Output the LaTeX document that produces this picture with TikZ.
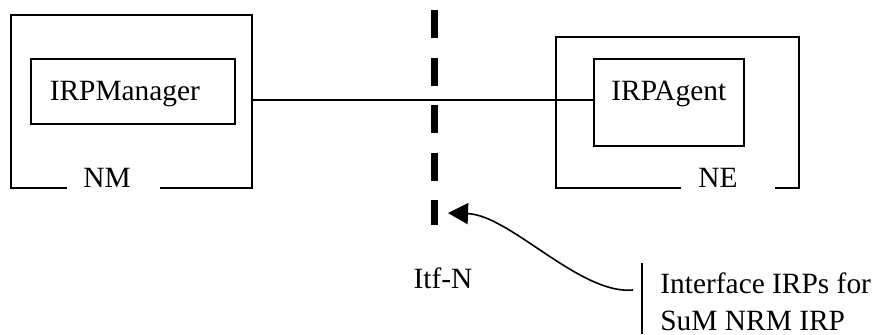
\documentclass[tikz,border=0pt]{standalone}
\usepackage{fontspec}
\setmainfont{Liberation Serif}
\usetikzlibrary{arrows.meta}
\tikzset{
  frame/.style={line width=0.8pt},
  irpbox/.style={draw, rectangle, line width=0.8pt, inner ysep=0pt},
  itf/.style={line width=3.5pt, dash pattern=on 14pt off 9.75pt},
}

\begin{document}
\begin{tikzpicture}[x=0.5pt,y=-0.5pt,font=\fontsize{14.7}{18.5}\selectfont]
\useasboundingbox (0,0) rectangle (875,334);
% NM
\node[irpbox, anchor=north west, inner xsep=9.5pt, text width=83pt, align=left,
      text height=21pt, text depth=11.5pt] (mgr) at (30,58) {IRPManager};
\node[anchor=base] (nmlbl) at (107,187) {NM};
\draw[frame] (67,188) -- (11,188) |- (252,15) |- (160,188);
\coordinate (nmport) at (252,100);
% NE
\node[irpbox, anchor=north west, minimum width=75pt,
      text height=21pt, text depth=22.5pt] (agent) at (593,58) {IRPAgent};
\node[anchor=base] (nelbl) at (718,187) {NE};
\draw[frame] (681,188) -- (556,188) |- (799,37) |- (775,188);
\draw[frame] (nmport) -- (nmport -| agent.west);
% Itf-N
\coordinate (itftop) at (434,10);
\coordinate (itfbot) at (434,225);
\draw[itf] (itftop) -- (itfbot);
\node[anchor=base] (itflbl) at (443,288) {Itf-N};
\coordinate (itfmark) at (448,213);
% callout
\node[anchor=north west, align=left, inner sep=0pt] (note) at (660,272) {Interface IRPs for\\SuM NRM IRP};
\coordinate (bartop) at (642,263);
\coordinate (barbot) at (642,334);
\coordinate (callout) at (633,290);
\draw[frame] (bartop) -- (barbot);
\draw[frame, -{Triangle[length=10pt,width=10.5pt]}] (callout) .. controls (580,295) and (510,215) .. (itfmark);
\end{tikzpicture}
\end{document}
